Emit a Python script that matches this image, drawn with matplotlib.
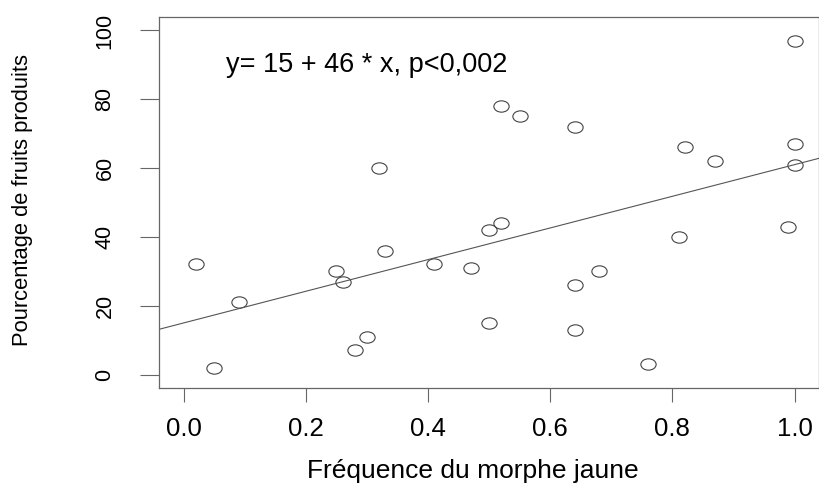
import matplotlib
matplotlib.use("Agg")
import matplotlib.pyplot as plt
from matplotlib.path import Path
from matplotlib.transforms import Affine2D

# data
freq = [0.02, 0.05, 0.09, 0.25, 0.26, 0.28, 0.30, 0.32, 0.33, 0.41,
        0.47, 0.50, 0.50, 0.52, 0.52, 0.55, 0.64, 0.64, 0.64, 0.68,
        0.76, 0.81, 0.82, 0.87, 0.99, 1.00, 1.00, 1.00]
fruits = [32, 2, 21, 30, 27, 7, 11, 60, 36, 32,
          31, 42, 15, 78, 44, 75, 72, 26, 13, 30,
          3, 40, 66, 62, 43, 97, 67, 61]
intercept = 15
slope = 46
xticks = [0.0, 0.2, 0.4, 0.6, 0.8, 1.0]
yticks = [0, 20, 40, 60, 80, 100]

plt.rcParams['font.family'] = ['Liberation Sans', 'DejaVu Sans']

fig = plt.figure(figsize=(8.2, 4.95), dpi=100)
ax = fig.add_axes([0.1943, 0.2156, 0.8045, 0.7507])

# slightly wide open circles (like the original's stretched R plot)
ell = Path.unit_circle().transformed(Affine2D().scale(1.35, 1.0))
ax.plot(freq, fruits, linestyle='none', marker=ell, markersize=11,
        markerfacecolor='none', markeredgecolor='#444444', markeredgewidth=0.8)

# regression line across the whole plot
ax.axline((0, intercept), slope=slope, color='#555555', lw=0.8)

ax.set_xlim(-0.04, 1.04)
ax.set_ylim(-4, 104)
ax.set_xticks(xticks)
ax.set_xticklabels(['%.1f' % t for t in xticks])
ax.set_yticks(yticks)
ax.set_yticklabels([str(t) for t in yticks], rotation=90, va='center')

for s in ax.spines.values():
    s.set_color('#666666')
    s.set_linewidth(0.9)
ax.tick_params(axis='x', length=10, pad=11, color='#666666', labelsize=18.5)
ax.tick_params(axis='y', length=13.5, pad=18, color='#666666', labelsize=15.5)

ax.text(0.30, 90, 'y= 15 + 46 * x, p<0,002', ha='center', va='center', fontsize=19.5)

fig.text(0.577, 0.024, 'Fréquence du morphe jaune', ha='center', va='bottom', fontsize=19)
fig.text(0.028, 0.596, 'Pourcentage de fruits produits', rotation=90,
         ha='center', va='center', fontsize=15.8)

plt.savefig('out.png', dpi=100)
